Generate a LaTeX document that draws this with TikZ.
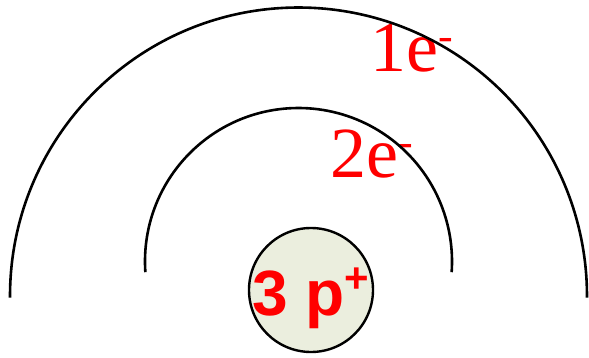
\documentclass[tikz,border=0pt]{standalone}
\usepackage{fontspec}
\setmainfont{Liberation Serif}
\newfontfamily\nucfont{Liberation Sans}
\usepackage{xcolor}
\usetikzlibrary{positioning}
\definecolor{nucfill}{HTML}{EBEEDE}
\definecolor{chargered}{HTML}{FF0000}
\newcommand{\charge}[3]{\raisebox{#2}{\fontsize{#1}{#1}\selectfont #3}}
\tikzset{
    shell/.style={
        draw=black,
        line width=2.6pt
    },
    nucleus/.style={
        circle,
        draw=black,
        line width=2.4pt,
        fill=nucfill,
        minimum size=124pt,
        inner sep=0pt
    },
    nuctext/.style={
        text=chargered,
        font=\nucfont\bfseries\fontsize{64}{64}\selectfont,
        anchor=base,
        inner sep=0pt
    },
    shelllabel/.style={
        text=chargered,
        font=\fontsize{72}{72}\selectfont,
        anchor=base west,
        inner sep=0pt
    }
}

\begin{document}
\begin{tikzpicture}[x=1pt,y=1pt]
\useasboundingbox (0,0) rectangle (589,357);
\coordinate (c1) at (298.5,61);
\coordinate (c2) at (298.5,95.5);

\node[nucleus] (nuc) at (311,67) {};
\node[nuctext] (p) at ([yshift=-25pt]nuc.center) {3 p\charge{42}{23pt}{+}};
\node[shelllabel] (e1) at (370,286) {1e\charge{44}{21pt}{-}};
\node[shelllabel] (e2) at (330,180) {2e\charge{44}{21pt}{-}};

\draw[shell] (c1) ++(180.3:288.5) arc[start angle=180.3, end angle=-0.3, radius=288.5];
\draw[shell] (c2) ++(184:153.5) arc[start angle=184, end angle=-4, radius=153.5];
\end{tikzpicture}
\end{document}
